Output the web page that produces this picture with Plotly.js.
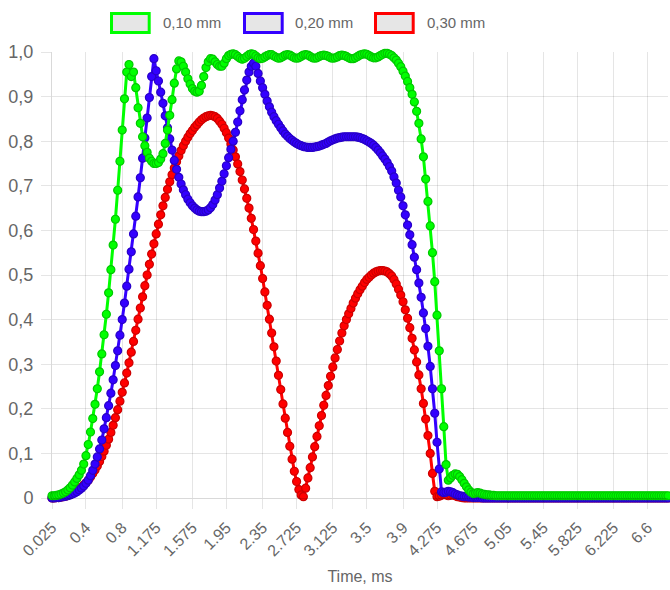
<!DOCTYPE html>
<html>
<head>
<meta charset="utf-8">
<script src="https://cdn.plot.ly/plotly-3.0.1.min.js"></script>
<style>html,body{margin:0;padding:0;background:#fff;}#chart{width:670px;height:590px;}</style>
</head>
<body>
<div id="chart"></div>
<script>
// ---- data ----
const seriesNames = ["0,10 mm", "0,20 mm", "0,30 mm"];
const seriesColors = ["rgb(0,255,0)", "rgb(51,0,255)", "rgb(255,0,0)"];
const seriesEdge = ["rgb(0,200,0)", "rgb(40,0,200)", "rgb(205,0,0)"];

const xTickLabels = ["0.025","0.4","0.8","1.175","1.575","1.95","2.35","2.725","3.125","3.5","3.9","4.275","4.675","5.05","5.45","5.825","6.225","6.6"];
const yTickValues = [0,0.1,0.2,0.3,0.4,0.5,0.6,0.7,0.8,0.9,1.0];
const yTickLabels = ["0","0,1","0,2","0,3","0,4","0,5","0,6","0,7","0,8","0,9","1,0"];

const green = [
0.005,0.005,0.006,0.007,0.009,0.011,0.014,0.018,0.023,0.029,
0.036,0.044,0.052,0.062,0.076,0.095,0.12,0.148,0.178,0.21,
0.245,0.283,0.323,0.366,0.412,0.46,0.512,0.567,0.625,0.69,
0.755,0.825,0.895,0.955,0.972,0.945,0.955,0.92,0.875,0.84,
0.81,0.79,0.775,0.762,0.755,0.75,0.75,0.752,0.76,0.772,
0.795,0.825,0.858,0.893,0.93,0.962,0.98,0.978,0.968,0.955,
0.94,0.928,0.918,0.912,0.91,0.912,0.925,0.945,0.965,0.978,
0.985,0.984,0.978,0.972,0.968,0.968,0.975,0.985,0.992,0.995,
0.996,0.994,0.99,0.986,0.984,0.986,0.99,0.994,0.996,0.995,
0.991,0.987,0.985,0.986,0.989,0.992,0.994,0.994,0.991,0.988,
0.986,0.987,0.99,0.993,0.994,0.993,0.99,0.987,0.986,0.987,
0.99,0.993,0.994,0.993,0.99,0.987,0.986,0.987,0.99,0.992,
0.993,0.992,0.99,0.987,0.986,0.987,0.989,0.992,0.993,0.992,
0.99,0.987,0.985,0.985,0.987,0.99,0.993,0.995,0.996,0.995,
0.992,0.989,0.987,0.987,0.989,0.992,0.995,0.997,0.997,0.995,
0.992,0.987,0.982,0.975,0.967,0.957,0.946,0.934,0.92,0.905,
0.888,0.867,0.84,0.805,0.765,0.715,0.665,0.61,0.55,0.485,
0.41,0.33,0.245,0.16,0.075,0.04,0.045,0.051,0.054,0.053,
0.048,0.041,0.033,0.025,0.018,0.013,0.01,0.011,0.012,0.011,
0.009,0.008,0.007,0.007,0.006,0.006,0.005,0.005,0.005,0.005,
0.005,0.005,0.005,0.005,0.005,0.005,0.005,0.005,0.005,0.005,
0.005,0.005,0.005,0.005,0.005,0.005,0.005,0.005,0.005,0.005,
0.005,0.005,0.005,0.005,0.005,0.005,0.005,0.005,0.005,0.005,
0.005,0.005,0.005,0.005,0.005,0.005,0.005,0.005,0.005,0.005,
0.005,0.005,0.005,0.005,0.005,0.005,0.005,0.005,0.005,0.005,
0.005,0.005,0.005,0.005,0.005,0.005,0.005,0.005,0.005,0.005,
0.005,0.005,0.005,0.005,0.005,0.005,0.005,0.005,0.005,0.005,
0.005,0.005,0.005
];

const blue = [
0,0,0.001,0.001,0.002,0.003,0.004,0.005,0.007,0.009,
0.011,0.014,0.018,0.022,0.027,0.033,0.04,0.05,0.062,0.076,
0.092,0.11,0.13,0.155,0.18,0.207,0.235,0.265,0.297,0.33,
0.365,0.4,0.437,0.475,0.513,0.552,0.592,0.632,0.675,0.718,
0.762,0.807,0.852,0.898,0.945,0.985,0.958,0.935,0.91,0.885,
0.857,0.83,0.805,0.78,0.757,0.737,0.719,0.704,0.691,0.68,
0.67,0.662,0.655,0.65,0.646,0.643,0.642,0.642,0.643,0.646,
0.651,0.658,0.668,0.68,0.695,0.71,0.727,0.745,0.763,0.782,
0.8,0.82,0.843,0.868,0.893,0.915,0.937,0.955,0.968,0.975,
0.968,0.952,0.935,0.92,0.905,0.89,0.877,0.865,0.855,0.846,
0.838,0.83,0.823,0.816,0.811,0.806,0.802,0.798,0.795,0.792,
0.79,0.788,0.787,0.786,0.786,0.786,0.787,0.788,0.789,0.791,
0.793,0.795,0.798,0.801,0.803,0.805,0.807,0.808,0.809,0.81,
0.81,0.81,0.81,0.81,0.81,0.809,0.808,0.806,0.804,0.801,
0.798,0.795,0.791,0.786,0.78,0.774,0.767,0.76,0.752,0.743,
0.733,0.72,0.706,0.69,0.675,0.655,0.635,0.612,0.59,0.568,
0.54,0.512,0.482,0.45,0.415,0.38,0.34,0.295,0.245,0.19,
0.125,0.065,0.014,0.012,0.013,0.015,0.014,0.012,0.009,0.007,
0.005,0.004,0.003,0.003,0.002,0.002,0.001,0.001,0.001,0.001,
0,0,0,0,0,0,0,0,0,0,
0,0,0,0,0,0,0,0,0,0,
0,0,0,0,0,0,0,0,0,0,
0,0,0,0,0,0,0,0,0,0,
0,0,0,0,0,0,0,0,0,0,
0,0,0,0,0,0,0,0,0,0,
0,0,0,0,0,0,0,0,0,0,
0,0,0,0,0,0,0,0,0,0,
0,0,0
];

const red = [
0,0,0.001,0.001,0.002,0.003,0.004,0.006,0.008,0.01,
0.013,0.016,0.02,0.024,0.029,0.034,0.04,0.047,0.055,0.063,
0.072,0.082,0.093,0.105,0.118,0.132,0.147,0.163,0.18,0.198,
0.217,0.237,0.258,0.28,0.303,0.327,0.351,0.376,0.401,0.426,
0.451,0.476,0.5,0.524,0.547,0.57,0.592,0.614,0.635,0.655,
0.674,0.692,0.709,0.725,0.74,0.754,0.767,0.779,0.79,0.8,
0.809,0.817,0.824,0.831,0.837,0.843,0.848,0.852,0.855,0.857,
0.858,0.857,0.855,0.851,0.845,0.838,0.829,0.819,0.807,0.794,
0.78,0.765,0.749,0.732,0.713,0.693,0.672,0.65,0.627,0.602,
0.576,0.549,0.521,0.492,0.462,0.432,0.401,0.37,0.339,0.307,
0.275,0.243,0.211,0.179,0.147,0.116,0.087,0.06,0.037,0.019,
0.007,0.003,0.022,0.045,0.068,0.092,0.115,0.138,0.162,0.185,
0.208,0.23,0.252,0.273,0.294,0.314,0.333,0.352,0.37,0.386,
0.4,0.413,0.425,0.437,0.448,0.458,0.467,0.475,0.483,0.49,
0.495,0.5,0.504,0.507,0.509,0.51,0.51,0.509,0.507,0.503,
0.498,0.49,0.48,0.468,0.455,0.44,0.422,0.403,0.382,0.358,
0.332,0.305,0.276,0.245,0.212,0.177,0.14,0.1,0.055,0.015,
0.003,0.004,0.006,0.008,0.007,0.005,0.006,0.007,0.005,0.003,
0.002,0.001,0,0,0,0,0,0,0,0,
0,0,0,0,0,0,0,0,0,0,
0,0,0,0,0,0,0,0,0,0,
0,0,0,0,0,0,0,0,0,0,
0,0,0,0,0,0,0,0,0,0,
0,0,0,0,0,0,0,0,0,0,
0,0,0,0,0,0,0,0,0,0,
0,0,0,0,0,0,0,0,0,0,
0,0,0,0,0,0,0,0,0,0,
0,0,0
];

// time categories: 0.025 ms steps
const timeStep = 0.025;
const time = green.map((_, i) => +((i + 1) * timeStep).toFixed(3));

// ---- layout helpers ----
const W = 670, H = 590;
const M = {l: 52, r: 2, t: 52, b: 92};
const PW = W - M.l - M.r, PH = H - M.t - M.b;
const px = v => (v - M.l) / PW;
const py = v => (H - M.b - v) / PH;

const FONT = "Liberation Sans, Arial, Helvetica, sans-serif";
const TXT = "#666666";
const GRID = "rgba(0,0,0,0.1)";

const allSeries = [green, blue, red];
const traces = [2, 1, 0].map(i => ({
  type: "scatter",
  mode: "lines+markers",
  name: seriesNames[i],
  x: time,
  y: allSeries[i],
  line: {color: seriesColors[i], width: 3},
  marker: {size: 8, color: seriesColors[i], line: {color: seriesEdge[i], width: 1.2}},
  cliponaxis: false,
  hoverinfo: "skip"
}));

// legend (Chart.js style boxes)
const legendItems = [
  {box: [111.5, 149.2], text: 161},
  {box: [244.5, 282.2], text: 293},
  {box: [375.5, 413.2], text: 425}
];
const shapes = [], annotations = [];
legendItems.forEach((it, i) => {
  shapes.push({type: "rect", xref: "paper", yref: "paper",
    x0: px(it.box[0]), x1: px(it.box[1]), y0: py(32.5), y1: py(13.5),
    fillcolor: "#e6e6e6", line: {color: seriesColors[i], width: 3}, layer: "above"});
  annotations.push({xref: "paper", yref: "paper", x: px(it.text), y: py(23),
    xanchor: "left", yanchor: "middle", showarrow: false, text: seriesNames[i],
    font: {family: FONT, size: 15, color: TXT}});
});

const layout = {
  width: W, height: H,
  margin: M,
  paper_bgcolor: "#fff", plot_bgcolor: "#fff",
  showlegend: false,
  font: {family: FONT, color: TXT, size: 16},
  xaxis: {
    type: "linear",
    range: [time[0], time[time.length - 1]],
    tickvals: xTickLabels.map(Number),
    ticktext: xTickLabels,
    tickangle: -45,
    ticks: "outside", ticklen: 10, tickcolor: GRID, tickwidth: 1,
    ticklabelstandoff: 3,
    showgrid: true, gridcolor: GRID, gridwidth: 1,
    zeroline: false, showline: true, linecolor: "rgba(0,0,0,0.15)", linewidth: 1,
    tickfont: {family: FONT, size: 16, color: TXT},
    title: {text: "Time, ms", font: {family: FONT, size: 16, color: TXT}, standoff: 12},
    automargin: false, fixedrange: true
  },
  yaxis: {
    range: [0, 1],
    tickvals: yTickValues,
    ticktext: yTickLabels,
    ticks: "outside", ticklen: 10, tickcolor: GRID, tickwidth: 1,
    ticklabelstandoff: 4,
    showgrid: true, gridcolor: GRID, gridwidth: 1,
    zeroline: false, showline: true, linecolor: "rgba(0,0,0,0.15)", linewidth: 1,
    tickfont: {family: FONT, size: 18, color: TXT},
    automargin: false, fixedrange: true
  },
  shapes: shapes,
  annotations: annotations
};

Plotly.newPlot("chart", traces, layout, {staticPlot: true, displayModeBar: false});
</script>
</body>
</html>
